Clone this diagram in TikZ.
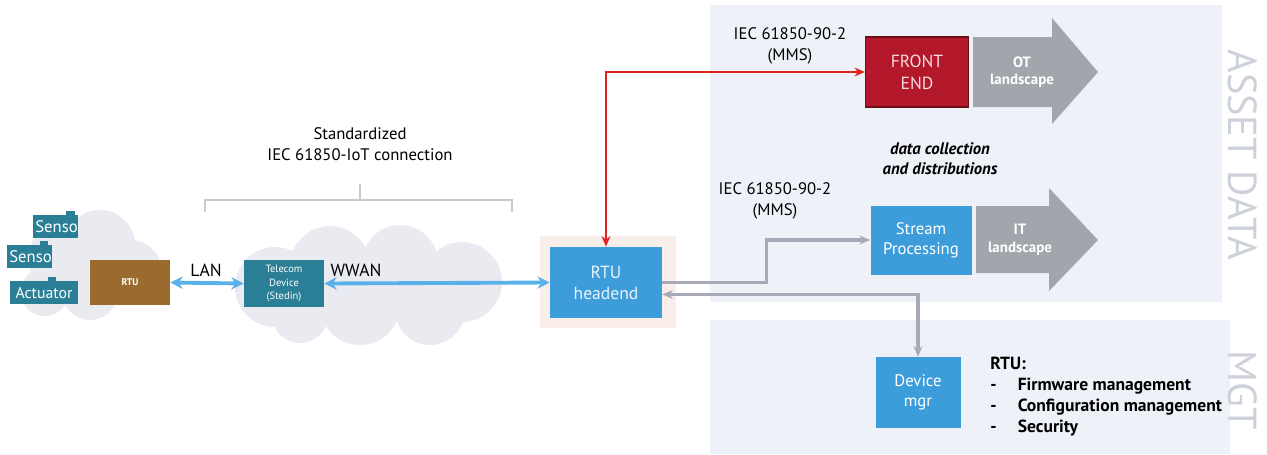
\documentclass[tikz,border=0pt]{standalone}
\usepackage{fontspec}
\setmainfont{PT Sans}
\usetikzlibrary{arrows.meta,calc}
\definecolor{panel}{HTML}{EEF2F8}
\definecolor{cloudgray}{HTML}{EAEBF0}
\definecolor{boxblue}{HTML}{3D9DDB}
\definecolor{teal}{HTML}{2A7F96}
\definecolor{rtubrown}{HTML}{9B6A2E}
\definecolor{fered}{HTML}{B3182A}
\definecolor{redline}{HTML}{E02222}
\definecolor{grayline}{HTML}{A7A9B8}
\definecolor{blockgray}{HTML}{A3A5AD}
\definecolor{lanblue}{HTML}{5AB0E8}
\definecolor{halo}{HTML}{F9EEE9}
\definecolor{bracegray}{HTML}{C8CACF}
\definecolor{sidetext}{HTML}{CDD1DA}
\tikzset{
  bluebox/.style={fill=boxblue, text=white, align=center, inner sep=0pt, font=\fontsize{9.5}{11}\selectfont},
  tealbox/.style={fill=teal, text=white, align=center, inner sep=0pt},
  lanarrow/.style={draw=lanblue, line width=2.2pt, {Stealth[length=7pt,width=7pt]}-{Stealth[length=7pt,width=7pt]}},
  redarrow/.style={draw=redline, line width=1.3pt, {Stealth[length=6pt,width=5pt]}-{Stealth[length=6pt,width=5pt]}},
  grayarrow/.style={draw=grayline, line width=1.8pt},
  label/.style={align=center, text=black, font=\fontsize{9.5}{12}\selectfont},
  blockarrow/.style={fill=blockgray},
}
\begin{document}
\begin{tikzpicture}[x=0.02cm,y=-0.02cm]
\useasboundingbox (0,0) rectangle (1267,454);
% panels
\fill[panel] (710,5) rectangle (1222,302);
\fill[panel] (710,320) rectangle (1230,454);
\node[rotate=-90, text=sidetext, font=\fontsize{23}{23}\selectfont] (assetlbl) at (1243,155) {ASSET DATA};
\node[rotate=-90, text=sidetext, font=\fontsize{23}{23}\selectfont] (mgtlbl) at (1243,390) {MGT};
% clouds
\fill[cloudgray] (60,258) circle (32) (100,245) circle (35) (130,272) circle (32) (90,292) circle (28) (45,292) circle (24);
\fill[cloudgray] (275,287) circle (40) (330,266) circle (40) (400,263) circle (38) (462,282) circle (40)
  (360,305) circle (40) (430,310) circle (35) (300,315) circle (28);
% brace
\draw[bracegray, line width=0.6pt] (205,212) -- (205,200) -- (512,200) -- (512,212);
\draw[bracegray, line width=0.6pt] (360,200) -- (360,184);
\node[label] (stdlbl) at (360,144) {Standardized\\IEC 61850-IoT connection};
% sensors
\fill[teal] (66,211) rectangle (75,216);
\fill[teal] (40,241) rectangle (48,246);
\fill[teal] (48,277) rectangle (56,282);
\node[tealbox, minimum width=0.9cm, minimum height=0.46cm] (s1) at (55.5,226.5) {};
\node[tealbox, minimum width=0.9cm, minimum height=0.46cm] (s2) at (29.5,256.5) {};
\node[tealbox, minimum width=1.36cm, minimum height=0.46cm, font=\fontsize{9}{10}\selectfont] (act) at (44,292.5) {Actuator};
\begin{scope}
\clip (33,215) rectangle (78,238);
\node[text=white, anchor=west, font=\fontsize{9.5}{10}\selectfont, inner sep=0pt] (s1t) at (35,226.5) {Sensor};
\end{scope}
\begin{scope}
\clip (7,245) rectangle (52,268);
\node[text=white, anchor=west, font=\fontsize{9.5}{10}\selectfont, inner sep=0pt] (s2t) at (9,256.5) {Sensor};
\end{scope}
% RTU
\node[fill=rtubrown, text=white, minimum width=1.6cm, minimum height=0.9cm, inner sep=0pt, font=\bfseries\fontsize{5.5}{6}\selectfont] (rtu) at (130,282.5) {RTU};
% telecom
\node[tealbox, minimum width=1.6cm, minimum height=0.94cm, font=\fontsize{6}{7.5}\selectfont] (tel) at (284,283.5) {Telecom\\Device\\(Stedin)};
% headend
\fill[halo] (540,236) rectangle (676,328);
\node[bluebox, minimum width=2.24cm, minimum height=1.42cm, text=white!88!boxblue, font=\fontsize{10}{12}\selectfont] (head) at (606,282.5) {RTU\\headend};
% LAN / WWAN
\draw[lanarrow] (rtu.east) -- (tel.west);
\node[label, font=\fontsize{10}{12}\selectfont] (lanlbl) at (206,270) {LAN};
\draw[lanarrow] (tel.east) -- (head.west);
\node[label, font=\fontsize{10}{12}\selectfont] (wwanlbl) at (356,270) {WWAN};
% front end
\node[fill=fered, draw=fered!60!black, line width=0.6pt, text=white!85!fered, align=center, inner sep=0pt, minimum width=2.06cm, minimum height=1.4cm, font=\fontsize{10}{12.5}\selectfont] (fe) at (917,72) {FRONT\\END};
\draw[redarrow] (head.north) |- (fe.west);
\node[label] (iec1) at (790,46) {IEC 61850-90-2\\(MMS)};
% OT arrow
\fill[blockgray] (973,37) -- (1052,37) -- (1052,18) -- (1098,72) -- (1052,124) -- (1052,107) -- (973,107) -- cycle;
\node[text=white, align=center, font=\bfseries\fontsize{8.5}{10}\selectfont] (otlbl) at (1022,72) {OT\\landscape};
% data collection
\node[align=center, font=\bfseries\itshape\fontsize{9.5}{11.5}\selectfont] (dclbl) at (940,159) {data collection\\and distributions};
% stream processing
\node[bluebox, minimum width=2.02cm, minimum height=1.38cm, font=\fontsize{9.5}{11.5}\selectfont] (sp) at (921,240) {Stream\\Processing};
\node[label] (iec2) at (775,201) {IEC 61850-90-2\\(MMS)};
% IT arrow
\fill[blockgray] (976,206) -- (1049,206) -- (1049,188) -- (1098,240) -- (1049,291) -- (1049,273) -- (976,273) -- cycle;
\node[text=white, align=center, font=\bfseries\fontsize{8.5}{10}\selectfont] (itlbl) at (1020,240) {IT\\landscape};
% device mgr
\node[bluebox, minimum width=1.7cm, minimum height=1.42cm, font=\fontsize{9.5}{11.5}\selectfont] (dm) at (918,392.5) {Device\\mgr};
% gray connectors
\draw[grayarrow, -{Stealth[length=6pt,width=5pt]}] (head.east) -- ++(104,0) |- (sp.west);
\draw[grayarrow, {Stealth[length=6pt,width=5pt]}-{Stealth[length=6pt,width=5pt]}] ([yshift=-0.24cm]head.east) -| (dm.north);
% RTU list
\node[anchor=north west, align=left, inner sep=0pt, font=\bfseries\fontsize{10}{11.3}\selectfont] (rtulist) at (990,357)
  {RTU:\\[0.5pt]-\hspace{12pt}Firmware management\\[0.5pt]-\hspace{12pt}Configuration management\\[0.5pt]-\hspace{12pt}Security};
\end{tikzpicture}
\end{document}
